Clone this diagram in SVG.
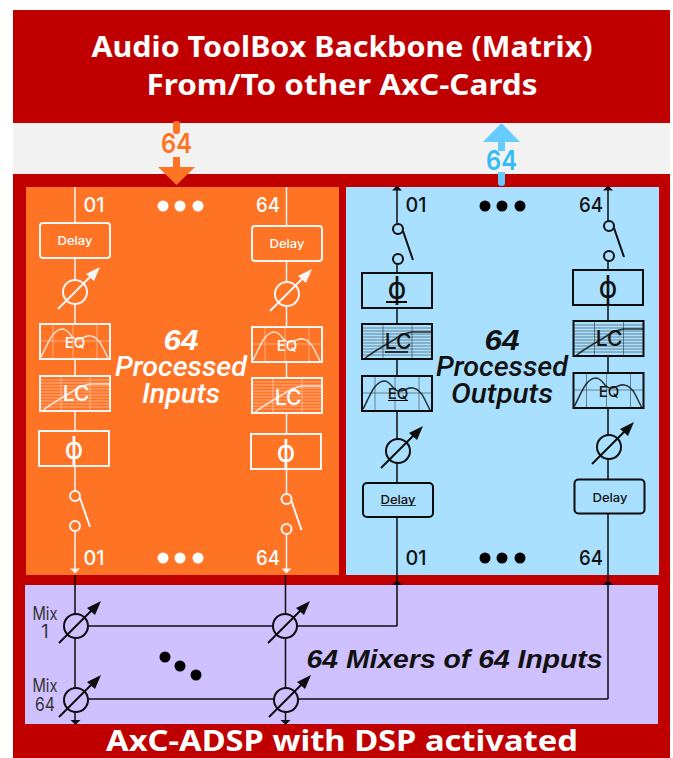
<svg xmlns="http://www.w3.org/2000/svg" width="673" height="758" viewBox="0 0 673 758">
<style>
text{font-family:"Liberation Sans",Arial,sans-serif;text-anchor:middle}
.o{color:#f6f6f6;--p:#ff7324}
.b{color:#0d0d0d;--p:#a9e0ff}
.m{color:#0d0d0d;--p:#cfc1ff}
.o text{fill:#fff}.b text,.m text{fill:#111}
.box{fill:var(--p);stroke:currentColor;stroke-width:2}
.thin{fill:none;stroke:currentColor;stroke-width:1;opacity:.45}
.cv{fill:none;stroke:currentColor;stroke-width:1.6;opacity:.8}
.lbl,.dl,.eq,.lc,.mx,.n64{font-family:Inter,"Liberation Sans",sans-serif;font-weight:500}
.lbl{font-size:20px}
.dl{font-size:12px}
.eq{font-size:15px}
.lc{font-size:21px}
.phi{font-size:30px;font-family:"DejaVu Sans",sans-serif}
.big{font-size:30px;font-weight:bold;font-style:italic}
.sub{font-size:27px;font-style:italic;font-family:Roboto,"Liberation Sans",sans-serif;font-weight:500}
.tt{fill:#fff;font-family:"Noto Sans","DejaVu Sans",sans-serif;font-weight:bold}
.wire{fill:none;stroke-width:1.5}
.mx{font-size:18px;fill:#333!important;font-weight:400}
.n64{font-size:27px;font-weight:600}
</style>
<defs>
<g id="gain"><circle r="12" fill="var(--p)" stroke="currentColor" stroke-width="2"/><path d="M-17 17L17 -17" stroke="currentColor" stroke-width="2" fill="none"/><path d="M25 -25L19 -11L11 -18Z" fill="currentColor"/></g>
<g id="sw"><circle r="5" fill="var(--p)" stroke="currentColor" stroke-width="2"/><circle cy="30" r="5" fill="var(--p)" stroke="currentColor" stroke-width="2"/><path d="M5 2L15 31" stroke="currentColor" stroke-width="2"/></g>
<g id="eq"><rect width="70" height="35" class="box"/><path d="M13 0V35M33 0V35M57 0V35M0 17H70" class="thin"/><path d="M1 33C8 20 12 6 22 5C30 5 30 15 37 15C44 15 45 11 51 12C57 13 60 18 62 22L68 34" class="cv"/></g>
<g id="lc"><rect width="70" height="35" class="box"/><path d="M21 0V35M50 0V35M0 4H70M0 7H70M0 10H70M0 13H70M0 16H70M0 19H70M0 22H70M0 25H70M0 28H70M0 31H70" class="thin"/><path d="M2 35C12 27 22 22 30 17C37 12 42 9 50 8L70 8" class="cv"/></g>
<path id="ad" d="M-5 0H5L0 5Z" fill="currentColor"/>
<path id="au" d="M-5 5H5L0 0Z" fill="currentColor"/>
</defs>

<rect x="13" y="10" width="657" height="748" fill="#c00000"/>
<rect x="13" y="123" width="657" height="51" fill="#f2f2f2"/>
<rect x="26" y="187" width="313" height="388" fill="#ff7324"/>
<rect x="346" y="187" width="313" height="388" fill="#a9e0ff"/>
<rect x="25" y="585" width="633" height="139" fill="#cfc1ff"/>

<g id="title">
<text class="tt" x="342" y="57" font-size="29" textLength="501" lengthAdjust="spacingAndGlyphs">Audio ToolBox Backbone (Matrix)</text>
<text class="tt" x="342" y="95" font-size="29" textLength="391" lengthAdjust="spacingAndGlyphs">From/To other AxC-Cards</text>
</g>

<g id="connectors">
<g class="o" stroke="currentColor"><path class="wire" d="M75 187V223M75 258V280M75 304V324M75 359V376M75 411V431M75 466V491M75 531V570M286.500 187V226M286.500 261V282M286.500 306V327M286.500 362V378M286.500 413V434M286.500 469V494M286.500 534V570"/></g>
<g class="b" stroke="currentColor"><path class="wire" d="M397 188V224M397 263V273M397 308V324M397 359V376M397 411V439M397 463V483M397 517V626M608 188V221M608 260V270M608 305V321M608 356V373M608 408V435M608 459V479M608 514V699"/></g>
<g class="m" stroke="currentColor"><path class="wire" d="M75 575V722M285.500 575V722M76 626H397M76 699H608"/></g>
<g class="o"><use href="#ad" x="75" y="568.500"/><use href="#ad" x="286.500" y="568.500"/></g>
<g class="b"><use href="#au" x="397" y="185.500"/><use href="#au" x="608" y="185.500"/><use href="#au" x="397" y="580"/><use href="#au" x="608" y="580"/></g>
<g class="m"><use href="#ad" x="75.500" y="720"/><use href="#ad" x="285.500" y="720"/></g>
</g>

<g id="bus-in">
<rect x="173" y="121" width="7" height="13" rx="3" fill="#ff7324"/>
<path d="M173 157H180V167H195L176.500 185L158 167H173Z" fill="#ff7324"/>
<text class="n64" x="176.500" y="153" fill="#ff7324" textLength="31" lengthAdjust="spacingAndGlyphs">64</text>
</g>
<g id="bus-out">
<path d="M501.500 123L520 142H505V151H498V142H483Z" fill="#66ccff"/>
<path d="M498 172H505V183Q505 186 501.500 186Q498 186 498 183Z" fill="#66ccff"/>
<text class="n64" x="501.500" y="170" fill="#33bbf5" textLength="31" lengthAdjust="spacingAndGlyphs">64</text>
</g>

<g id="inputs" class="o">
<g id="in-labels">
<text class="lbl" x="94" y="212" textLength="21" lengthAdjust="spacingAndGlyphs">01</text><text class="lbl" x="268" y="212" textLength="24" lengthAdjust="spacingAndGlyphs">64</text>
<text class="lbl" x="94" y="565" textLength="21" lengthAdjust="spacingAndGlyphs">01</text><text class="lbl" x="268" y="565" textLength="24" lengthAdjust="spacingAndGlyphs">64</text>
<g fill="#fff"><circle cx="163" cy="206" r="5.500"/><circle cx="180" cy="206" r="5.500"/><circle cx="198" cy="206" r="5.500"/><circle cx="163" cy="558" r="5.500"/><circle cx="180" cy="558" r="5.500"/><circle cx="198" cy="558" r="5.500"/></g>
<text class="big" x="181" y="350" textLength="35" lengthAdjust="spacingAndGlyphs">64</text>
<text class="sub" x="181" y="376" textLength="132" lengthAdjust="spacingAndGlyphs">Processed</text>
<text class="sub" x="181" y="403" textLength="78" lengthAdjust="spacingAndGlyphs">Inputs</text>
</g>
<g id="in1-delay"><rect x="40" y="223" width="70" height="35" rx="3" class="box"/><text class="dl" x="75" y="245" textLength="35" lengthAdjust="spacingAndGlyphs">Delay</text></g>
<g id="in1-gain"><use href="#gain" x="75" y="292"/></g>
<g id="in1-eq"><use href="#eq" x="40" y="324"/><text class="eq" x="75" y="348">EQ</text></g>
<g id="in1-lc"><use href="#lc" x="40" y="376"/><text class="lc" x="76" y="401">LC</text></g>
<g id="in1-phi"><rect x="39" y="431" width="70" height="35" class="box"/><text class="phi" x="74" y="459" textLength="19" lengthAdjust="spacingAndGlyphs">ϕ</text></g>
<g id="in1-switch"><use href="#sw" x="75" y="496"/></g>
<g id="in2-delay"><rect x="252" y="226" width="70" height="35" rx="3" class="box"/><text class="dl" x="287" y="248" textLength="35" lengthAdjust="spacingAndGlyphs">Delay</text></g>
<g id="in2-gain"><use href="#gain" x="287" y="294"/></g>
<g id="in2-eq"><use href="#eq" x="252" y="327"/><text class="eq" x="287" y="351">EQ</text></g>
<g id="in2-lc"><use href="#lc" x="252" y="378"/><text class="lc" x="288" y="405">LC</text></g>
<g id="in2-phi"><rect x="251" y="434" width="70" height="35" class="box"/><text class="phi" x="286" y="462" textLength="19" lengthAdjust="spacingAndGlyphs">ϕ</text></g>
<g id="in2-switch"><use href="#sw" x="286.500" y="499"/></g>
</g>

<g id="outputs" class="b">
<g id="out-labels">
<text class="lbl" x="416" y="212" textLength="21" lengthAdjust="spacingAndGlyphs">01</text><text class="lbl" x="591" y="212" textLength="24" lengthAdjust="spacingAndGlyphs">64</text>
<text class="lbl" x="416" y="565" textLength="21" lengthAdjust="spacingAndGlyphs">01</text><text class="lbl" x="591" y="565" textLength="24" lengthAdjust="spacingAndGlyphs">64</text>
<g fill="#000"><circle cx="485" cy="206" r="5.500"/><circle cx="502" cy="206" r="5.500"/><circle cx="520" cy="206" r="5.500"/><circle cx="485" cy="558" r="5.500"/><circle cx="502" cy="558" r="5.500"/><circle cx="520" cy="558" r="5.500"/></g>
<text class="big" x="502" y="350" textLength="35" lengthAdjust="spacingAndGlyphs">64</text>
<text class="sub" x="502" y="376" textLength="132" lengthAdjust="spacingAndGlyphs">Processed</text>
<text class="sub" x="502" y="403" textLength="102" lengthAdjust="spacingAndGlyphs">Outputs</text>
</g>
<g id="out1-switch"><use href="#sw" x="398" y="229"/></g>
<g id="out1-phi"><rect x="362" y="273" width="70" height="35" class="box"/><text class="phi" x="397" y="299" textLength="19" lengthAdjust="spacingAndGlyphs">ϕ</text><path d="M386 302H407" stroke="#000" stroke-width="2"/></g>
<g id="out1-lc"><use href="#lc" x="362" y="324"/><text class="lc" x="398" y="349">LC</text><path d="M385 352H408" stroke="#000" stroke-width="1.500"/></g>
<g id="out1-eq"><use href="#eq" x="362" y="376"/><text class="eq" x="398" y="399">EQ</text><path d="M388 400.500H408" stroke="#000"/></g>
<g id="out1-gain"><use href="#gain" x="398" y="451"/></g>
<g id="out1-delay"><rect x="363" y="483" width="70" height="34" rx="4" class="box"/><text class="dl" x="398" y="504" textLength="35" lengthAdjust="spacingAndGlyphs">Delay</text><path d="M381 505.500H416" stroke="#000" stroke-width=".7"/></g>
<g id="out2-switch"><use href="#sw" x="609" y="226"/></g>
<g id="out2-phi"><rect x="573" y="270" width="70" height="35" class="box"/><text class="phi" x="608" y="298" textLength="19" lengthAdjust="spacingAndGlyphs">ϕ</text></g>
<g id="out2-lc"><use href="#lc" x="573.500" y="321"/><text class="lc" x="609" y="346">LC</text></g>
<g id="out2-eq"><use href="#eq" x="573.500" y="373"/><text class="eq" x="609" y="397">EQ</text></g>
<g id="out2-gain"><use href="#gain" x="609" y="447"/></g>
<g id="out2-delay"><rect x="574.500" y="479.500" width="70" height="34" rx="4" class="box"/><text class="dl" x="610" y="502" textLength="35" lengthAdjust="spacingAndGlyphs">Delay</text></g>
</g>

<g id="mixers" class="m">
<g id="mix-labels">
<text class="mx" x="45" y="620" textLength="25" lengthAdjust="spacingAndGlyphs">Mix</text><text class="mx" x="45" y="638">1</text>
<text class="mx" x="45" y="692" textLength="25" lengthAdjust="spacingAndGlyphs">Mix</text><text class="mx" x="45" y="711" textLength="20" lengthAdjust="spacingAndGlyphs">64</text>
<g fill="#000"><circle cx="165" cy="657" r="5.500"/><circle cx="180" cy="666" r="5.500"/><circle cx="196" cy="675" r="5.500"/></g>
<text x="454.500" y="668" font-size="25" font-weight="bold" font-style="italic" textLength="296" lengthAdjust="spacingAndGlyphs">64 Mixers of 64 Inputs</text>
</g>
<g id="mix-1-1"><use href="#gain" x="76" y="626"/></g>
<g id="mix-1-64"><use href="#gain" x="285" y="626"/></g>
<g id="mix-64-1"><use href="#gain" x="76" y="700"/></g>
<g id="mix-64-64"><use href="#gain" x="286" y="700"/></g>
</g>

<g id="footer"><text class="tt" x="342" y="751" font-size="28" textLength="472" lengthAdjust="spacingAndGlyphs">AxC-ADSP with DSP activated</text></g>
</svg>
